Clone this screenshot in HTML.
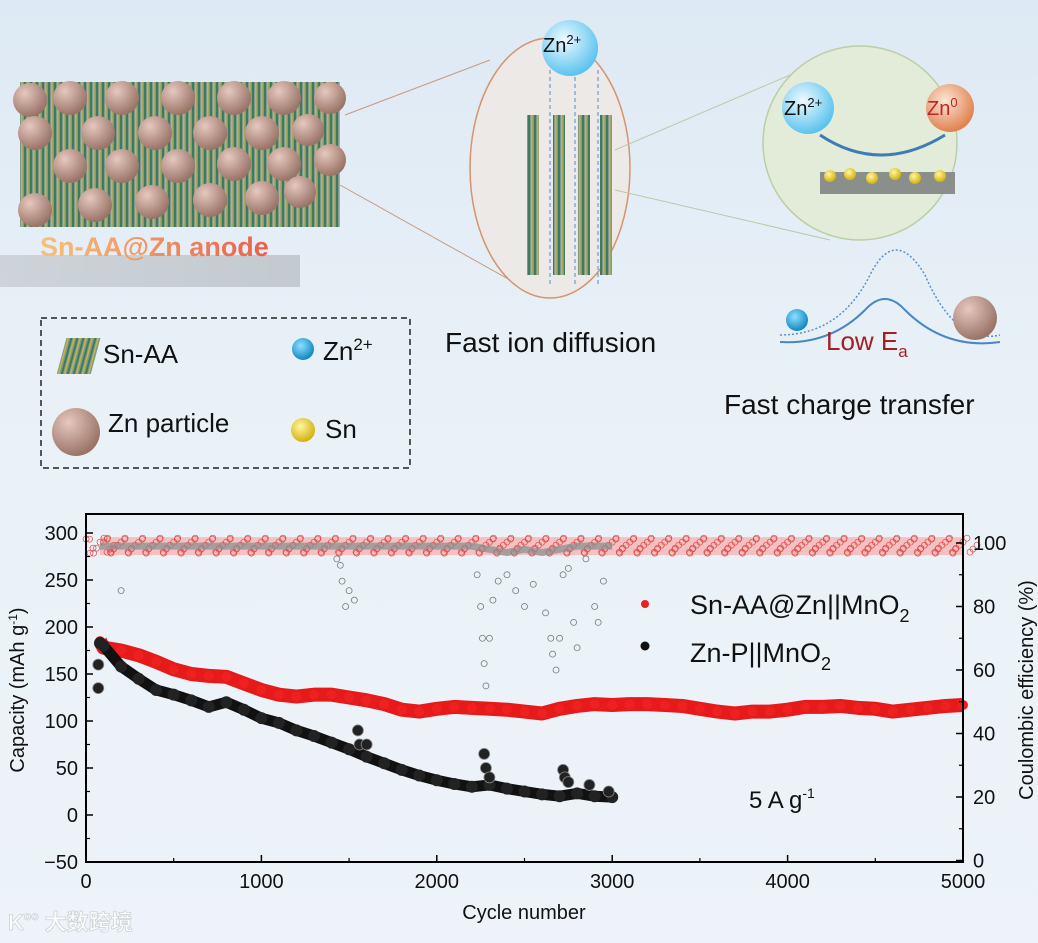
<!DOCTYPE html>
<html><head><meta charset="utf-8"><style>
html,body{margin:0;padding:0;}
body{width:1038px;height:943px;overflow:hidden;background:linear-gradient(#dde9f4,#e9f1f7 40%,#edf3f8);font-family:"Liberation Sans","Noto Sans CJK SC",sans-serif;}
svg{position:absolute;left:0;top:0;}
</style></head><body>
<svg width="1038" height="943" viewBox="0 0 1038 943">
<defs>
<radialGradient id="znp" cx="35%" cy="30%" r="70%"><stop offset="0" stop-color="#e6c8bf"/><stop offset="1" stop-color="#9a7468"/></radialGradient>
<radialGradient id="ion" cx="40%" cy="35%" r="65%"><stop offset="0" stop-color="#eefaff"/><stop offset="1" stop-color="#5cc3ef"/></radialGradient>
<radialGradient id="zn0" cx="40%" cy="35%" r="65%"><stop offset="0" stop-color="#fde6d6"/><stop offset="1" stop-color="#e0824e"/></radialGradient>
<radialGradient id="snb" cx="40%" cy="35%" r="65%"><stop offset="0" stop-color="#fff7a0"/><stop offset="1" stop-color="#d3b10e"/></radialGradient>
<radialGradient id="ionb" cx="40%" cy="35%" r="65%"><stop offset="0" stop-color="#8fe0ff"/><stop offset="1" stop-color="#1187c2"/></radialGradient>
<linearGradient id="anodeTxt" x1="0" x2="1"><stop offset="0" stop-color="#f6c27a"/><stop offset="1" stop-color="#e8604a"/></linearGradient>
<linearGradient id="shadow" x1="0" x2="1"><stop offset="0" stop-color="#c3c8cd"/><stop offset="1" stop-color="#b4babf"/></linearGradient>
<pattern id="snaa" width="6" height="10" patternUnits="userSpaceOnUse"><rect width="6" height="10" fill="#7f9a8c"/><rect width="2" height="10" fill="#3f7a5a"/><rect x="3" width="1.5" height="10" fill="#c8b24a"/></pattern>
</defs>

<g>
  <rect x="0" y="255" width="300" height="32" fill="url(#shadow)" opacity="0.7"/>
  <rect x="20" y="82" width="320" height="145" fill="url(#snaa)"/>
  <g fill="url(#znp)">
    <circle cx="30" cy="100" r="17"/><circle cx="70" cy="98" r="17"/><circle cx="122" cy="98" r="17"/><circle cx="178" cy="98" r="17"/><circle cx="234" cy="98" r="17"/><circle cx="284" cy="98" r="17"/><circle cx="330" cy="98" r="16"/>
    <circle cx="35" cy="133" r="17"/><circle cx="98" cy="133" r="17"/><circle cx="155" cy="133" r="17"/><circle cx="210" cy="133" r="17"/><circle cx="262" cy="133" r="17"/><circle cx="308" cy="130" r="16"/>
    <circle cx="70" cy="166" r="17"/><circle cx="122" cy="166" r="17"/><circle cx="178" cy="166" r="17"/><circle cx="234" cy="164" r="17"/><circle cx="284" cy="164" r="17"/><circle cx="330" cy="160" r="16"/>
    <circle cx="35" cy="210" r="17"/><circle cx="95" cy="205" r="17"/><circle cx="152" cy="202" r="17"/><circle cx="210" cy="200" r="17"/><circle cx="262" cy="198" r="17"/><circle cx="300" cy="192" r="16"/>
  </g>
  <text x="40" y="256" font-size="27" font-weight="bold" fill="url(#anodeTxt)">Sn-AA@Zn anode</text>
  <line x1="345" y1="115" x2="490" y2="60" stroke="#c79b7e" stroke-width="1"/>
  <line x1="340" y1="185" x2="510" y2="280" stroke="#c79b7e" stroke-width="1"/>
</g>
<g>
  <ellipse cx="550" cy="168" rx="80" ry="130" fill="#ece9e6" stroke="#d49470" stroke-width="1.5"/>
  <g fill="url(#snaa)"><rect x="527" y="115" width="12" height="160"/><rect x="553" y="115" width="12" height="160"/><rect x="578" y="115" width="12" height="160"/><rect x="600" y="115" width="12" height="160"/></g>
  <g stroke="#4a8fd0" stroke-dasharray="4 3" stroke-width="1"><line x1="550" y1="70" x2="550" y2="285"/><line x1="575" y1="70" x2="575" y2="285"/><line x1="598" y1="70" x2="598" y2="285"/></g>
  <circle cx="570" cy="48" r="28" fill="url(#ion)"/>
  <text x="543" y="52" font-size="20" fill="#111">Zn<tspan dy="-8" font-size="13">2+</tspan></text>
  <line x1="615" y1="150" x2="790" y2="75" stroke="#b9c9a7" stroke-width="1"/>
  <line x1="615" y1="190" x2="830" y2="240" stroke="#b9c9a7" stroke-width="1"/>
</g>
<g>
  <circle cx="860" cy="143" r="97" fill="#e3ecd8" stroke="#b9cfa7" stroke-width="1.5"/>
  <circle cx="808" cy="108" r="26" fill="url(#ion)"/><circle cx="950" cy="108" r="24" fill="url(#zn0)"/>
  <text x="784" y="115" font-size="20" fill="#111">Zn<tspan dy="-8" font-size="13">2+</tspan></text>
  <text x="927" y="115" font-size="20" fill="#b8262a">Zn<tspan dy="-8" font-size="13">0</tspan></text>
  <path d="M820 135 Q880 175 945 135" fill="none" stroke="#3d7cb7" stroke-width="3"/>
  <rect x="820" y="172" width="135" height="22" fill="#8a8f8c"/>
  <g fill="url(#snb)"><circle cx="830" cy="176" r="6"/><circle cx="850" cy="174" r="6"/><circle cx="872" cy="178" r="6"/><circle cx="895" cy="174" r="6"/><circle cx="915" cy="178" r="6"/><circle cx="940" cy="176" r="6"/></g>
</g>
<g>
  <path d="M780 335 Q840 335 870 275 Q895 225 925 275 Q955 345 1000 335" fill="none" stroke="#5a8fc9" stroke-width="1.5" stroke-dasharray="2 2"/>
  <path d="M780 342 Q830 345 865 310 Q885 288 905 310 Q945 350 1000 342" fill="none" stroke="#4a86c6" stroke-width="2"/>
  <circle cx="797" cy="320" r="11" fill="url(#ionb)"/><circle cx="975" cy="318" r="22" fill="url(#znp)"/>
  <text x="826" y="350" font-size="26" fill="#a51e26">Low E<tspan dy="7" font-size="17">a</tspan></text>
</g>
<text x="445" y="352" font-size="28" fill="#111">Fast ion diffusion</text>
<text x="724" y="414" font-size="28" fill="#111">Fast charge transfer</text>
<g>
  <rect x="41" y="318" width="369" height="150" fill="none" stroke="#222" stroke-width="1.5" stroke-dasharray="6 4"/>
  <rect x="62" y="338" width="34" height="36" fill="url(#snaa)" transform="skewX(-15) translate(95 0)"/>
  <text x="103" y="363" font-size="26" fill="#111">Sn-AA</text>
  <circle cx="303" cy="349" r="11" fill="url(#ionb)"/>
  <text x="323" y="360" font-size="26" fill="#111">Zn<tspan dy="-10" font-size="17">2+</tspan></text>
  <circle cx="76" cy="432" r="24" fill="url(#znp)"/>
  <text x="108" y="432" font-size="26" fill="#111">Zn particle</text>
  <circle cx="303" cy="430" r="12" fill="url(#snb)"/>
  <text x="325" y="438" font-size="26" fill="#111">Sn</text>
</g>

<g id="chart"></g>
<g opacity="0.85">
  <text x="8" y="930" font-size="22" fill="#fff" stroke="#c9ccd0" stroke-width="0.8" font-weight="bold">K<tspan font-size="12" dy="-10">oo</tspan><tspan dy="10"> 大数跨境</tspan></text>
</g>
</svg>
<script>
// ---- chart data ----
const snCycles=[80,100,200,300,400,500,600,700,800,900,1000,1100,1200,1300,1400,1500,1600,1700,1800,1900,2000,2100,2200,2300,2400,2500,2600,2700,2800,2900,3000,3100,3200,3300,3400,3500,3600,3700,3800,3900,4000,4100,4200,4300,4400,4500,4600,4700,4800,4900,5000];
const snCapacity=[185,178,175,170,163,155,150,148,147,140,133,128,126,128,128,125,122,118,112,110,113,115,114,113,112,110,108,113,116,118,117,118,118,117,116,113,110,108,110,110,112,115,115,116,114,113,110,112,114,116,117];
const snCE=[99,99,99,99,99,99,99,99,99,99,99,99,99,99,99,99,99,99,99,99,99,99,99,99,99,99,99,99,99,99,99,99,99,99,99,99,99,99,99,99,99,99,99,99,99,99,99,99,99,99,99];
const znCycles=[80,100,200,300,400,500,600,700,800,900,1000,1100,1200,1300,1400,1500,1600,1700,1800,1900,2000,2100,2200,2300,2400,2500,2600,2700,2800,2900,3000];
const znCapacity=[183,180,158,145,133,128,122,115,120,112,103,98,90,84,77,70,62,55,48,42,37,33,30,32,28,25,22,20,23,20,19];
const znCE=[99,99,99,99,99,99,99,99,99,99,99,99,99,99,99,99,99,99,99,99,99,99,99,98,97,98,97,98,99,99,99];
const znOutCycles=[70,70,1550,1560,1600,2270,2280,2300,2720,2730,2750,2870,2980];
const znOutCap=[160,135,90,75,75,65,50,40,48,40,35,32,25];
const ceOutCycles=[200,1430,1450,1460,1480,1500,1530,2230,2250,2260,2270,2280,2300,2320,2350,2400,2450,2500,2550,2620,2650,2660,2680,2700,2720,2750,2780,2800,2850,2900,2920,2950];
const ceOutVals=[85,95,93,88,80,85,82,90,80,70,62,55,70,82,88,90,85,80,87,78,70,65,60,70,90,92,75,67,95,80,75,88];
const xTicks=[0,1000,2000,3000,4000,5000];
const yTicks=[-50,0,50,100,150,200,250,300];
const y2Ticks=[0,20,40,60,80,100];

// ---- axes ----
const L=86,R=963,T=514,B=862;
const x=c=>L+(c/5000)*(R-L);
const y=v=>815-(v)*0.94;
const y2=v=>860.5-v*3.175;
const NS='http://www.w3.org/2000/svg';
const g=document.getElementById('chart');
function mk(tag,at,parent){const e=document.createElementNS(NS,tag);for(const k in at)e.setAttribute(k,at[k]);(parent||g).appendChild(e);return e;}
const jitter=[[-14,-7],[-7,2],[0,-4],[7,6],[14,-1],[-10,7],[4,-8],[10,3]];

const bandS=mk('polyline',{points:snCycles.map((c,i)=>x(c)+','+y2(snCE[i])).join(' '),fill:'none',stroke:'#f3c1c1','stroke-width':18});


snCycles.forEach((c,i)=>{jitter.forEach(o=>{const e=mk('circle',{cx:x(c)+o[0],cy:y2(snCE[i])+o[1],r:3,fill:'none',stroke:'#e24848','stroke-width':0.7});

});});
const bandZ=mk('polyline',{points:znCycles.map((c,i)=>x(c)+','+y2(znCE[i])).join(' '),fill:'none',stroke:'#8d9090','stroke-width':7,opacity:0.75});


ceOutCycles.forEach((c,i)=>{const e=mk('circle',{cx:x(c),cy:y2(ceOutVals[i]),r:3,fill:'none',stroke:'#777','stroke-width':0.8});

});

const lineS=mk('polyline',{points:snCycles.map((c,i)=>x(c)+','+y(snCapacity[i])).join(' '),fill:'none',stroke:'#e61a1a','stroke-width':14,'stroke-linejoin':'round'});


snCycles.forEach((c,i)=>{const e=mk('circle',{cx:x(c),cy:y(snCapacity[i]),r:5,fill:'#ee2020'});

});
const lineZ=mk('polyline',{points:znCycles.map((c,i)=>x(c)+','+y(znCapacity[i])).join(' '),fill:'none',stroke:'#111','stroke-width':11,'stroke-linejoin':'round'});


znCycles.forEach((c,i)=>{const e=mk('circle',{cx:x(c),cy:y(znCapacity[i]),r:6,fill:'#222'});

});
znOutCycles.forEach((c,i)=>{const e=mk('circle',{cx:x(c),cy:y(znOutCap[i]),r:5.5,fill:'#222',stroke:'#888','stroke-width':0.8});

});

const fr=mk('rect',{x:L,y:T,width:R-L,height:B-T,fill:'none',stroke:'#000','stroke-width':2});


xTicks.forEach(t=>{mk('line',{x1:x(t),y1:B,x2:x(t),y2:B-7,stroke:'#000','stroke-width':1.5});
if(t<5000)mk('line',{x1:x(t+500),y1:B,x2:x(t+500),y2:B-4,stroke:'#000','stroke-width':1.2});
const e=mk('text',{x:x(t),y:B+26,'font-size':20,'text-anchor':'middle',fill:'#111'});e.textContent=t;

});
yTicks.forEach(t=>{mk('line',{x1:L,y1:y(t),x2:L+7,y2:y(t),stroke:'#000','stroke-width':1.5});
if(t<300)mk('line',{x1:L,y1:y(t+25),x2:L+4,y2:y(t+25),stroke:'#000','stroke-width':1.2});
const e=mk('text',{x:L-8,y:y(t)+7,'font-size':20,'text-anchor':'end',fill:'#111'});e.textContent=t<0?'\u2212'+(-t):t;

});
y2Ticks.forEach(t=>{mk('line',{x1:R,y1:y2(t),x2:R-7,y2:y2(t),stroke:'#000','stroke-width':1.5});
if(t<100)mk('line',{x1:R,y1:y2(t+10),x2:R-4,y2:y2(t+10),stroke:'#000','stroke-width':1.2});
const e=mk('text',{x:R+10,y:y2(t)+7,'font-size':20,fill:'#111'});e.textContent=t;

});
const xt=mk('text',{x:524,y:919,'font-size':20,'text-anchor':'middle',fill:'#111'});xt.textContent='Cycle number';


const yt=mk('text',{transform:'translate(24 690) rotate(-90)','font-size':20,'text-anchor':'middle',fill:'#111'});yt.innerHTML='Capacity (mAh g<tspan dy="-7" font-size="12">-1</tspan><tspan dy="7">)</tspan>';


const y2t=mk('text',{transform:'translate(1033 690) rotate(-90)','font-size':20,'text-anchor':'middle',fill:'#111'});y2t.textContent='Coulombic efficiency (%)';


const lg=mk('g',{});


mk('circle',{cx:645,cy:604,r:4,fill:'#e82020'},lg);
let t1=mk('text',{x:690,y:614,'font-size':27,fill:'#111'},lg);t1.innerHTML='Sn-AA@Zn||MnO<tspan dy="8" font-size="18">2</tspan>';
mk('circle',{cx:645,cy:646,r:4.5,fill:'#111'},lg);
let t2=mk('text',{x:690,y:662,'font-size':27,fill:'#111'},lg);t2.innerHTML='Zn-P||MnO<tspan dy="8" font-size="18">2</tspan>';
const ann=mk('text',{x:749,y:808,'font-size':24,fill:'#111'});ann.innerHTML='5 A g<tspan dy="-10" font-size="14">-1</tspan>';


</script>
</body></html>
